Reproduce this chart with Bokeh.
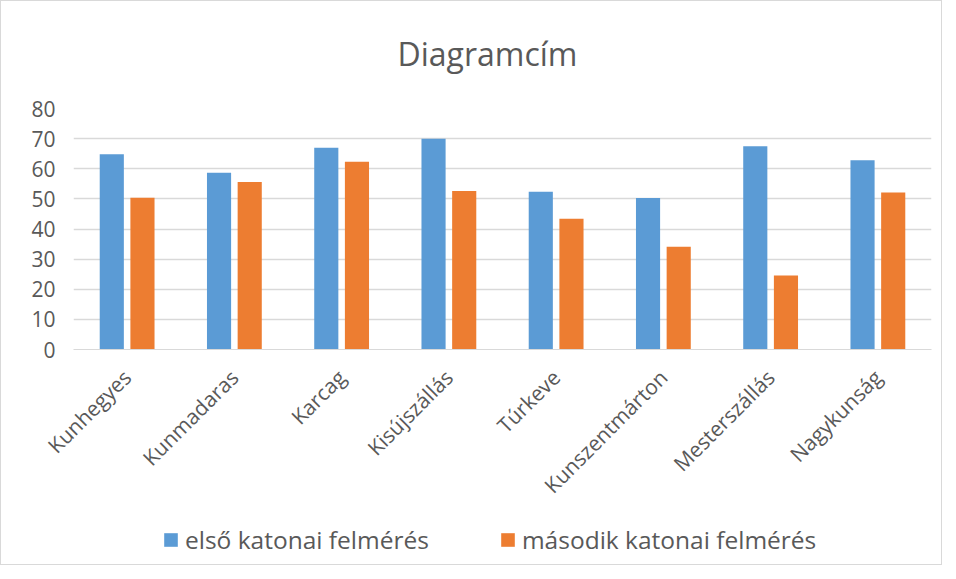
from bokeh.plotting import figure
from bokeh.models import ColumnDataSource, FactorRange, FixedTicker, Legend, LegendItem, Range1d, Label
from bokeh.layouts import column
from bokeh.transform import dodge
from bokeh.embed import file_html
from bokeh.resources import INLINE
import math

categories = ["Kunhegyes", "Kunmadaras", "Karcag", "Kisújszállás", "Túrkeve",
              "Kunszentmárton", "Mesterszállás", "Nagykunság"]
elso = [64.8, 58.7, 67.0, 70.0, 52.4, 50.3, 67.5, 62.8]
masodik = [50.4, 55.6, 62.3, 52.6, 43.4, 34.1, 24.6, 52.1]
y_ticks = [0, 10, 20, 30, 40, 50, 60, 70, 80]
series_names = ["első katonai felmérés", "második katonai felmérés"]
title_text = "Diagramcím"

FONT = "Open Sans"
GRAY = "#595959"
BLUE = "#5B9BD5"
ORANGE = "#ED7D31"


def strip(h):
    f = figure(width=940, height=h, x_range=Range1d(0, 1), y_range=Range1d(0, 1),
               output_backend="svg", toolbar_location=None, x_axis_type=None, y_axis_type=None,
               min_border=0, min_border_left=0, min_border_right=0, min_border_top=0,
               min_border_bottom=0, title=None)
    f.outline_line_color = None
    f.xgrid.grid_line_color = None
    f.ygrid.grid_line_color = None
    return f


# title strip
top = strip(90)
top.add_layout(Label(x=414, y=38, x_units="screen", y_units="screen", text=title_text,
                     text_align="center", text_baseline="alphabetic",
                     text_font=FONT, text_font_size="32px", text_color=GRAY))

# main chart
src = ColumnDataSource(dict(cat=categories, a=elso, b=masodik))

p = figure(width=940, height=425, x_range=FactorRange(*categories, range_padding=0),
           y_range=Range1d(0, 80), output_backend="svg", toolbar_location=None, title=None,
           min_border_left=72, min_border_right=10, min_border_top=17, min_border_bottom=167)

p.vbar(x=dodge("cat", -0.143, range=p.x_range), top="a", width=0.225, source=src,
       fill_color=BLUE, line_color=None)
p.vbar(x=dodge("cat", 0.143, range=p.x_range), top="b", width=0.225, source=src,
       fill_color=ORANGE, line_color=None)

p.outline_line_color = None
p.xgrid.grid_line_color = None
p.ygrid.ticker = FixedTicker(ticks=y_ticks)
p.ygrid.grid_line_color = "#D9D9D9"
p.ygrid.grid_line_width = 1.3

p.yaxis.ticker = FixedTicker(ticks=y_ticks)
p.yaxis.axis_line_color = None
p.yaxis.major_tick_line_color = None
p.yaxis.minor_tick_line_color = None
p.yaxis.major_label_standoff = 12
p.yaxis.major_label_text_font = FONT
p.yaxis.major_label_text_font_size = "21px"
p.yaxis.major_label_text_color = GRAY

p.xaxis.axis_line_color = "#D9D9D9"
p.xaxis.major_tick_line_color = None
p.xaxis.minor_tick_line_color = None
p.xaxis.major_label_orientation = math.pi / 4
p.xaxis.major_label_standoff = 18
p.xaxis.major_label_text_font = FONT
p.xaxis.major_label_text_font_size = "21px"
p.xaxis.major_label_text_color = GRAY

# legend strip (zero-height swatch renderers, only their legend glyphs show)
lg = strip(48)
l1 = lg.vbar(x="x", top="top", width=0.1, source=ColumnDataSource(dict(x=[0.5], top=[0])),
             fill_color=BLUE, line_color=None)
l2 = lg.vbar(x="x", top="top", width=0.1, source=ColumnDataSource(dict(x=[0.5], top=[0])),
             fill_color=ORANGE, line_color=None)

legend = Legend(items=[LegendItem(label=series_names[0], renderers=[l1]),
                       LegendItem(label=series_names[1], renderers=[l2])],
                orientation="horizontal", location=(89, 8),
                padding=0, margin=0, spacing=70, label_standoff=6,
                glyph_width=17, glyph_height=17, label_height=17,
                label_text_font=FONT, label_text_font_size="24.5px",
                label_text_color=GRAY, border_line_color=None,
                background_fill_alpha=0)
lg.add_layout(legend, "center")

layout = column(top, p, lg, spacing=0)
layout.styles = {"border": "1px solid #D9D9D9"}

open("out.html", "w").write(file_html(layout, INLINE))
